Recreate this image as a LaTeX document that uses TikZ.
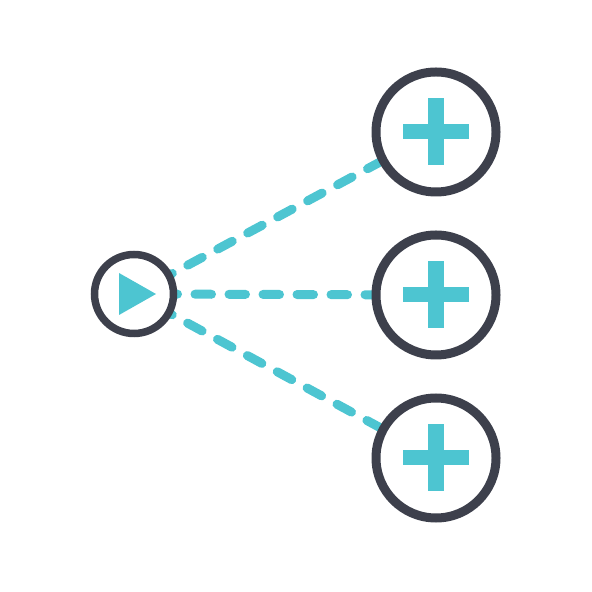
\documentclass[tikz,border=0pt]{standalone}
\usepackage{tikz}
\usetikzlibrary{backgrounds}
\definecolor{iconteal}{RGB}{77, 197, 209}
\definecolor{icondark}{RGB}{61, 64, 76}

\begin{document}
\begin{tikzpicture}[
    source/.style={draw=icondark, circle, line width=0.075cm, fill=white,
                   minimum size=0.79cm, inner sep=0pt},
    target/.style={draw=icondark, circle, line width=0.09cm, fill=white,
                   minimum size=1.2cm, inner sep=0pt},
    link/.style={iconteal, line width=0.09cm, line cap=round,
                 dash pattern=on 0.165cm off 0.175cm, dash phase=0.07cm}
  ]
    \useasboundingbox (0, 0) rectangle (5.92, 5.92);

    \node[source] (src) at (1.34, 2.98) {};
    \node[target] (t1) at (4.36, 4.60) {};
    \node[target] (t2) at (4.36, 2.97) {};
    \node[target] (t3) at (4.36, 1.34) {};

    % play triangle
    \fill[iconteal] ([xshift=-0.15cm, yshift=0.21cm]src.center)
        -- ([xshift=0.22cm]src.center)
        -- ([xshift=-0.15cm, yshift=-0.21cm]src.center) -- cycle;

    % plus signs
    \foreach \t in {t1, t2, t3} {
        \fill[iconteal] ([xshift=-0.33cm, yshift=-0.075cm]\t.center) rectangle ++(0.66, 0.15);
        \fill[iconteal] ([xshift=-0.08cm, yshift=-0.335cm]\t.center) rectangle ++(0.16, 0.67);
    }

    \begin{scope}[on background layer]
        \draw[link] (src.center) -- (t1.center);
        \draw[link] (src.center) -- (t2.center);
        \draw[link] (src.center) -- (t3.center);
    \end{scope}
\end{tikzpicture}
\end{document}
